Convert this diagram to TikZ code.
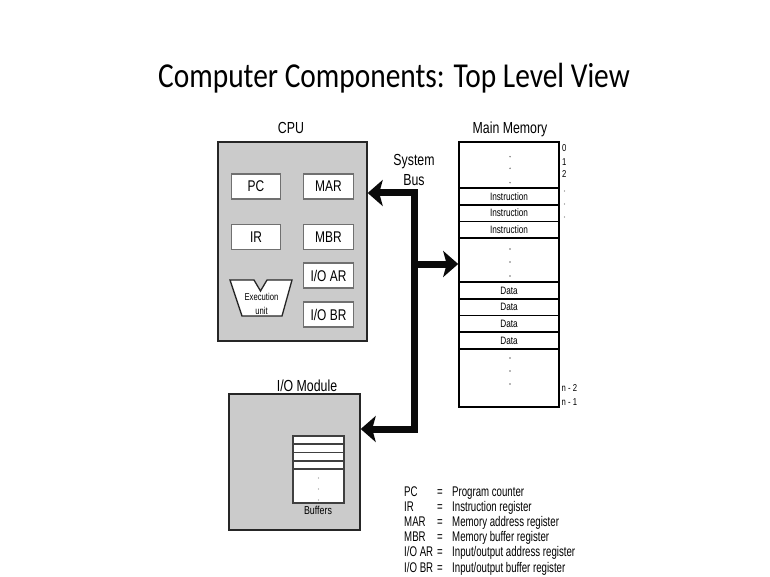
\documentclass[tikz,border=0pt]{standalone}
\usepackage{fontspec}
\setmainfont{Liberation Sans}[FakeStretch=0.77]
\newfontfamily\legfont{Liberation Sans}[FakeStretch=0.69]
\newfontfamily\titlefont{Carlito}[FakeStretch=0.84]
\usetikzlibrary{arrows.meta}
\definecolor{cpugray}{HTML}{CBCBCB}
\definecolor{regedge}{HTML}{707070}
\definecolor{busblack}{HTML}{0A0A0A}
\begin{document}
\begin{tikzpicture}[x=1pt,y=-1pt,
  unit/.style={draw=black!85, line width=1.4pt, fill=cpugray, inner sep=0pt},
  reg/.style={draw=regedge, fill=white, line width=1.3pt, minimum width=49.5pt, minimum height=25pt, inner sep=0pt, font=\fontsize{15.5}{18}\selectfont},
  memrow/.style={draw=black, line width=1.7pt, fill=white, minimum width=100pt, minimum height=16.7pt, inner sep=0pt, font=\fontsize{10.7}{12}\selectfont},
  lbl/.style={anchor=base, inner sep=0pt, font=\fontsize{16}{19}\selectfont},
  addr/.style={anchor=base west, inner sep=0pt, font=\fontsize{10}{12}\selectfont},
  leg/.style={anchor=base west, inner sep=0pt, font=\legfont\fontsize{14}{16}\selectfont},
  legeq/.style={anchor=base, inner sep=0pt, font=\legfont\fontsize{14}{16}\selectfont},
  bus/.style={draw=busblack, line width=7pt, line join=miter}
]
\useasboundingbox (0,0) rectangle (770,577);
\fill[white] (0,0) rectangle (770,577);

% title
\node[anchor=base, inner sep=0pt, font=\titlefont\fontsize{35}{40}\selectfont] (title) at (394,88) {Computer Components: Top Level View};

% CPU
\node[unit, minimum width=149pt, minimum height=199pt] (cpu) at (292.5,241.5) {};
\node[lbl] (cpulbl) at (291,133.5) {CPU};
\node[reg] (pc) at (256,186.5) {PC};
\node[reg] (mar) at (328.5,186.5) {MAR};
\node[reg] (ir) at (256,237) {IR};
\node[reg] (mbr) at (328.5,237) {MBR};
\node[reg] (ioar) at (328.5,275.5) {I/O AR};
\node[reg] (iobr) at (328.5,314.5) {I/O BR};
\draw[draw=black!85, fill=white, line width=1.3pt, line join=miter]
  (230,280) -- (254,280) -- (260.5,291) -- (267,280) -- (292,280) -- (282,316) -- (242,316) -- cycle;
\node[inner sep=0pt, align=center, font=\fontsize{10}{14}\selectfont] (exec) at (261.5,303.5) {Execution\\unit};

% Main memory
\node[draw=black, line width=1.6pt, fill=white, minimum width=100pt, minimum height=265pt, inner sep=0pt] (mem) at (509,274.5) {};
\node[lbl] (memlbl) at (510,134) {Main Memory};
\node[memrow] (ins1) at (509,196.35) {Instruction};
\node[memrow] (ins2) at (509,213.05) {Instruction};
\node[memrow] (ins3) at (509,229.75) {Instruction};
\node[memrow] (dat1) at (509,290.4) {Data};
\node[memrow] (dat2) at (509,307.1) {Data};
\node[memrow] (dat3) at (509,323.8) {Data};
\node[memrow] (dat4) at (509,340.5) {Data};
\foreach \y in {156.7,168.3,182.7,249,262,276,358,371,384}
  \fill[black!55] (510,\y) circle (0.8pt);
\node[addr] (a0) at (562,151.5) {0};
\node[addr] (a1) at (562,165.5) {1};
\node[addr] (a2) at (562,178) {2};
\foreach \y in {191,204,217}
  \fill[black!55] (564.5,\y) circle (0.7pt);
\node[addr] (an2) at (561.5,391.5) {n - 2};
\node[addr] (an1) at (561.5,405) {n - 1};

% I/O module
\node[unit, minimum width=131pt, minimum height=136pt] (io) at (294.5,462) {};
\node[lbl] (iolbl) at (307,391) {I/O Module};
\node[draw=black!75, fill=white, line width=1.2pt, minimum width=51pt, minimum height=67pt, inner sep=0pt] (buf) at (318.5,469.5) {};
\foreach \y in {444,452.5,461,469}
  \draw[black!75, line width=1.2pt] (buf.west |- 0,\y) -- (buf.east |- 0,\y);
\foreach \y in {478,489,500}
  \fill[black!45] (318.5,\y) circle (0.7pt);
\node[anchor=base, inner sep=0pt, font=\fontsize{11.5}{13}\selectfont] (buflbl) at (318,514.5) {Buffers};

% System bus
\node[lbl] (sys1) at (414,166) {System};
\node[lbl] (sys2) at (414,186) {Bus};
\coordinate (bustop) at (414.5,193);
\coordinate (busmid) at (414.5,264);
\coordinate (busbot) at (414.5,429);
\draw[bus, {Stealth[length=15pt, width=26pt, inset=3.5pt]}-{Stealth[length=15pt, width=26pt, inset=3.5pt]}]
  (cpu.east |- bustop) -- (bustop) -- (busbot) -- (io.east |- busbot);
\draw[bus, -{Stealth[length=15pt, width=26pt, inset=3.5pt]}] (busmid) -- (mem.west |- busmid);

% Legend
\node[leg] (lpc) at (404,496) {PC};
\node[leg] (lir) at (404,511.2) {IR};
\node[leg] (lmar) at (404,526.4) {MAR};
\node[leg] (lmbr) at (404,541.6) {MBR};
\node[leg] (lioar) at (404,556.8) {I/O AR};
\node[leg] (liobr) at (404,572) {I/O BR};
\foreach \y/\n in {496/1,511.2/2,526.4/3,541.6/4,556.8/5,572/6}
  \node[legeq] (eq\n) at (440,\y) {=};
\node[leg] (dpc) at (452,496) {Program counter};
\node[leg] (dir) at (452,511.2) {Instruction register};
\node[leg] (dmar) at (452,526.4) {Memory address register};
\node[leg] (dmbr) at (452,541.6) {Memory buffer register};
\node[leg] (dioar) at (452,556.8) {Input/output address register};
\node[leg] (diobr) at (452,572) {Input/output buffer register};
\end{tikzpicture}
\end{document}
